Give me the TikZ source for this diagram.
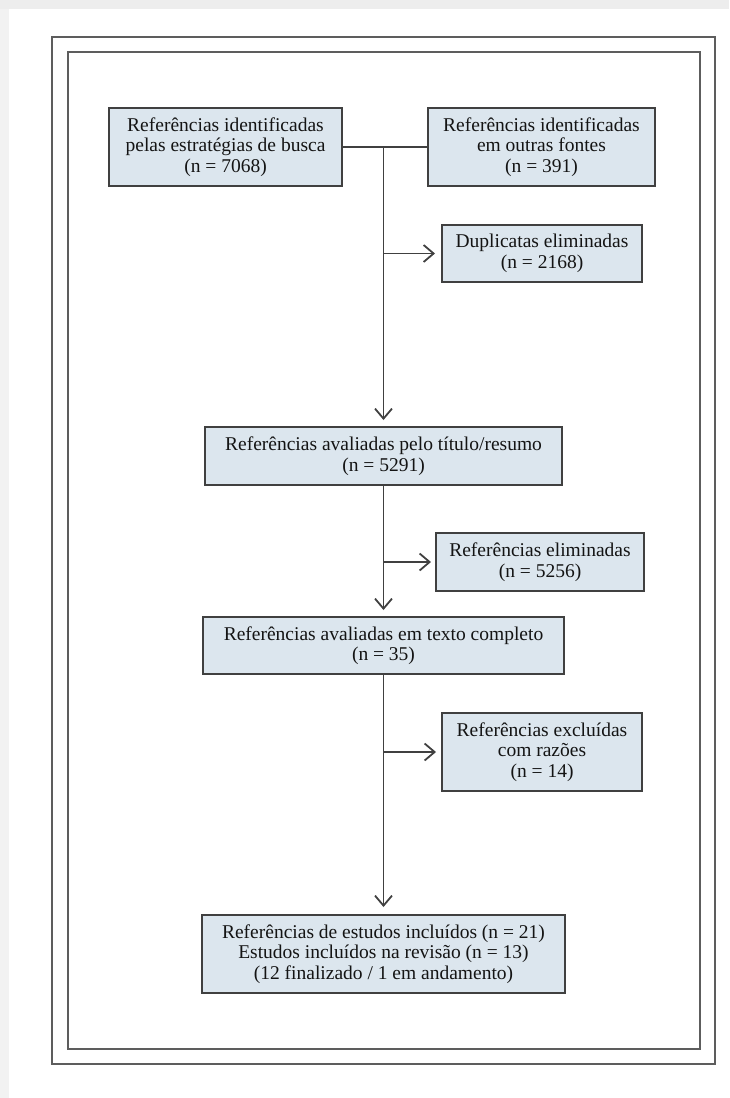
\documentclass[tikz,border=0pt]{standalone}
\usepackage{fontspec}
\setmainfont{Liberation Serif}
\usepackage{tikz}
\usetikzlibrary{arrows.meta}
\definecolor{boxfill}{RGB}{220,230,238}
\definecolor{boxline}{RGB}{64,64,64}
\definecolor{ink}{RGB}{20,20,20}

\begin{document}
\begin{tikzpicture}[x=1pt, y=-1pt, >={Straight Barb[length=10pt,width=17pt]},
  box/.style={draw=boxline, fill=boxfill, line width=2pt, align=center, inner sep=0pt,
    text=ink, font=\fontsize{19.5}{20.5}\selectfont},
  link/.style={draw=boxline, line width=1.8pt},
  frame/.style={draw=boxline!85, line width=2pt}]
\useasboundingbox (0,0) rectangle (729,1098);
\fill[black!7] (0,0) rectangle (729,9); \fill[black!5] (0,9) rectangle (9,1098);
\draw[frame] (52,37) rectangle (715,1064);
\draw[frame] (68,52) rectangle (700,1049);
\node[box, minimum width=233pt, minimum height=78pt] (srch) at (225.5,147) {Referências identificadas\\pelas estratégias de busca\\(n = 7068)};
\node[box, minimum width=227pt, minimum height=78pt] (othr) at (541.5,147) {Referências identificadas\\em outras fontes\\(n = 391)};
\node[box, minimum width=200pt, minimum height=57pt] (dupl) at (542,253.5) {Duplicatas eliminadas\\(n = 2168)};
\node[box, minimum width=357pt, minimum height=58pt] (titl) at (383.5,456) {Referências avaliadas pelo título/resumo\\(n = 5291)};
\node[box, minimum width=208pt, minimum height=58pt] (elim) at (540,562) {Referências eliminadas\\(n = 5256)};
\node[box, minimum width=361pt, minimum height=57pt] (full) at (383.5,645.5) {Referências avaliadas em texto completo\\(n = 35)};
\node[box, minimum width=200pt, minimum height=78pt] (excl) at (542,752) {Referências excluídas\\com razões\\(n = 14)};
\node[box, minimum width=363pt, minimum height=78pt] (incl) at (383.5,954) {Referências de estudos incluídos (n = 21)\\Estudos incluídos na revisão (n = 13)\\(12 finalizado / 1 em andamento)};
\coordinate (join) at (383.5,147);
\draw[link] (srch.east) -- (othr.west);
\draw[link,->,shorten >=6pt] (join) -- (titl.north);
\draw[link,->,shorten >=6pt] (join |- dupl.west) -- (dupl.west);
\draw[link,->,shorten >=6pt] (titl.south) -- (full.north);
\draw[link,->,shorten >=4pt] (titl.south |- elim.west) -- (elim.west);
\draw[link,->,shorten >=7pt] (full.south) -- (incl.north);
\draw[link,->,shorten >=5pt] (full.south |- excl.west) -- (excl.west);
\end{tikzpicture}
\end{document}
